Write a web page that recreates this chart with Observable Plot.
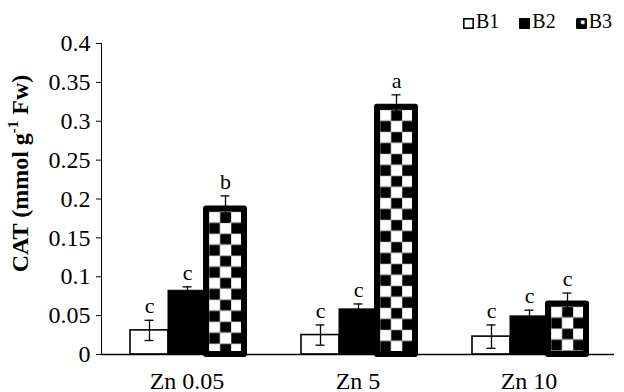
<!DOCTYPE html>
<html>
<head>
<meta charset="utf-8">
<script src="https://cdn.jsdelivr.net/npm/d3@7"></script>
<script src="https://cdn.jsdelivr.net/npm/@observablehq/plot@0.6"></script>
<style>
  html, body { margin: 0; padding: 0; background: #fff; }
  #wrap { width: 624px; font-family: "Liberation Serif", "Times New Roman", serif; color: #000; }
  #legend { height: 34px; box-sizing: border-box; padding-top: 10px; padding-right: 12px; text-align: right; font-size: 20px; line-height: 22px; white-space: nowrap; }
  #legend .item { display: inline-block; margin-left: 20px; }
  #legend .item:first-child { margin-left: 0; }
  #legend svg { vertical-align: -1px; margin-right: 2px; }
  #chart svg [aria-label^="y-axis"] text,
  #chart svg [aria-label^="fx-axis"] text { font-size: 24px; }
</style>
</head>
<body>
<div id="wrap">
  <div id="legend"></div>
  <div id="chart"></div>
</div>
<script>
// ---- data ----
const groups = ["Zn 0.05", "Zn 5", "Zn 10"];
const series = ["B1", "B2", "B3"];
const valuesB1 = [0.031, 0.025, 0.023];
const valuesB2 = [0.082, 0.058, 0.049];
const valuesB3 = [0.187, 0.318, 0.065];
const errB1 = [0.013, 0.013, 0.015];
const errB2 = [0.005, 0.007, 0.008];
const errB3 = [0.017, 0.016, 0.014];
const lettersB1 = ["c", "c", "c"];
const lettersB2 = ["c", "c", "c"];
const lettersB3 = ["b", "a", "c"];
const yTicks = [0, 0.05, 0.1, 0.15, 0.2, 0.25, 0.3, 0.35, 0.4];
const yTickLabels = ["0", "0.05", "0.1", "0.15", "0.2", "0.25", "0.3", "0.35", "0.4"];

const values = [valuesB1, valuesB2, valuesB3];
const errs = [errB1, errB2, errB3];
const letters = [lettersB1, lettersB2, lettersB3];

const data = groups.flatMap((g, i) => series.map((s, j) => ({
  group: g, series: s, value: values[j][i], err: errs[j][i], letter: letters[j][i]
})));
const bySeries = s => data.filter(d => d.series === s);

const chart = Plot.plot({
  width: 624,
  height: 358,
  marginTop: 9,
  marginBottom: 38,
  marginLeft: 100,
  marginRight: 9,
  style: { fontFamily: "'Liberation Serif', 'Times New Roman', serif", fontSize: "24px", color: "#000", background: "#fff", overflow: "visible" },
  fx: { domain: groups, padding: 0, label: null, tickSize: 0, tickPadding: 17 },
  x: { domain: series, paddingInner: 0, paddingOuter: 0.72, axis: null },
  y: { domain: [0, 0.4], ticks: yTicks, tickFormat: d => yTickLabels[yTicks.indexOf(d)], tickSize: 5, tickPadding: 6, line: true, label: null },
  marks: [
    Plot.barY(bySeries("B1"), { fx: "group", x: "series", y: "value", fill: "#fff", stroke: "#000", strokeWidth: 1.6 }),
    Plot.barY(bySeries("B2"), { fx: "group", x: "series", y: "value", fill: "#000", stroke: "#000", strokeWidth: 1 }),
    Plot.barY(bySeries("B3"), { fx: "group", x: "series", y: "value", fill: "url(#checker)", stroke: "#000", strokeWidth: 6, strokeLinejoin: "round" }),
    Plot.ruleY([0], { stroke: "#000", strokeWidth: 1.6 }),
    Plot.ruleX(data, { fx: "group", x: "series", y1: d => d.value - d.err, y2: d => d.value + d.err, stroke: "#000", strokeWidth: 1.3 }),
    Plot.tickY(data, { fx: "group", x: "series", y: d => d.value + d.err, stroke: "#000", strokeWidth: 1.3, insetLeft: 14.5, insetRight: 14.5 }),
    Plot.tickY(data, { fx: "group", x: "series", y: d => d.value - d.err, stroke: "#000", strokeWidth: 1.3, insetLeft: 14.5, insetRight: 14.5 }),
    Plot.text(data, { fx: "group", x: "series", y: d => d.value + d.err, text: "letter", dy: -14, fontSize: 22, fill: "#000" })
  ]
});
document.getElementById("chart").appendChild(chart);

// checkerboard patterns (one per B3 bar, aligned to the bar)
const svg = d3.select(chart);
const defs = svg.insert("defs", ":first-child");
svg.selectAll('g[fill="url(#checker)"] rect').each(function (d, i) {
  const r = d3.select(this);
  const x = +r.attr("x"), y = +r.attr("y");
  const id = "checker-" + i;
  const p = defs.append("pattern").attr("id", id).attr("patternUnits", "userSpaceOnUse")
    .attr("x", x + 3).attr("y", y + 3).attr("width", 22).attr("height", 22);
  p.append("rect").attr("width", 22).attr("height", 22).attr("fill", "#fff");
  p.append("rect").attr("x", 11).attr("y", 0).attr("width", 11).attr("height", 11).attr("fill", "#000");
  p.append("rect").attr("x", 0).attr("y", 11).attr("width", 11).attr("height", 11).attr("fill", "#000");
  p.append("path").attr("d", "M0,0H22M0,11H22M0,0V22M11,0V22").attr("stroke", "#aaa").attr("stroke-width", 0.8).attr("fill", "none");
  r.attr("fill", `url(#${id})`);
});

// y-axis title with superscript
const yr = chart.scale("y").range;
const yc = (yr[0] + yr[1]) / 2 - 25;
const t = svg.append("text")
  .attr("transform", `translate(28,${yc}) rotate(-90)`)
  .attr("text-anchor", "middle")
  .attr("font-weight", "bold")
  .attr("font-size", 24)
  .attr("fill", "#000");
t.append("tspan").text("CAT (mmol g");
t.append("tspan").attr("font-size", 15).attr("dy", -10).text("-1");
t.append("tspan").attr("dy", 10).text(" Fw)");

// legend
const legend = d3.select("#legend");
const swatches = {
  B1: s => { s.append("rect").attr("x", 0.8).attr("y", 0.8).attr("width", 9.4).attr("height", 9.4).attr("fill", "#fff").attr("stroke", "#000").attr("stroke-width", 1.6); },
  B2: s => { s.append("rect").attr("width", 11).attr("height", 11).attr("fill", "#000"); },
  B3: s => {
    s.append("rect").attr("width", 11).attr("height", 11).attr("fill", "#000").attr("rx", 1.5);
    s.append("rect").attr("x", 5).attr("y", 2.5).attr("width", 3.5).attr("height", 3.5).attr("fill", "#fff").attr("stroke", "#999").attr("stroke-width", 0.6);
  }
};
series.forEach(s => {
  const item = legend.append("span").attr("class", "item");
  const sw = item.append("svg").attr("width", 11).attr("height", 11);
  swatches[s](sw);
  item.append("span").text(s);
});
</script>
</body>
</html>
